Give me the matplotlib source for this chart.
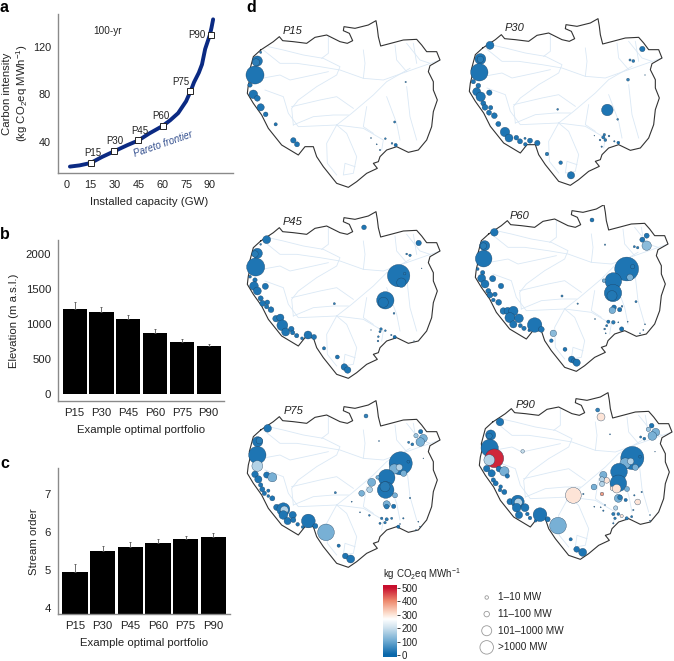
import numpy as np
import matplotlib
matplotlib.use('Agg')
import matplotlib.pyplot as plt
from matplotlib.colors import LinearSegmentedColormap, Normalize

plt.rcParams['font.family'] = ['Liberation Sans', 'DejaVu Sans']
plt.rcParams['mathtext.fontset'] = 'custom'
plt.rcParams['mathtext.rm'] = 'Liberation Sans'
plt.rcParams['mathtext.default'] = 'regular'
plt.rcParams['axes.unicode_minus'] = True

W, H = 674, 661
FS = 8.2
GREY = '#8a8a8a'
TXT = '#222222'

# panel a
frontier_gw = [2, 8, 15, 22, 30, 38, 45, 52, 60, 65, 70, 75, 78, 80, 83, 85, 87, 88, 90, 91, 92]
frontier_ci = [19, 20, 22, 27, 32, 37, 41, 47, 53, 58, 64, 74, 83, 90, 98, 105, 118, 122, 130, 136, 143]
portfolios = ['P15', 'P30', 'P45', 'P60', 'P75', 'P90']
portfolio_gw = [15.5, 30, 44.5, 60.5, 77.5, 90.5]
portfolio_ci = [22, 32, 41, 53, 83, 130]
label_offsets = [(1, 7), (0, 7), (1.5, 6.5), (-1.5, 7), (-6.5, 6), (-10, -0.5)]

# panel b
elevation = [1220, 1165, 1065, 875, 735, 680]
elevation_err = [100, 75, 70, 55, 45, 40]

# panel c
stream_order = [4.96, 5.5, 5.6, 5.72, 5.81, 5.88]
stream_order_err = [0.19, 0.13, 0.13, 0.1, 0.09, 0.1]

# basin outline and rivers, in the P15 crop coordinates (3 units = 1 pixel)
basin = [(62, 150), (85, 135), (100, 125), (118, 110), (128, 122), (160, 125), (200, 130), (225, 112),
         (260, 105), (300, 125), (322, 130), (338, 122), (328, 100), (310, 92), (312, 80), (345, 85),
         (385, 75), (408, 62), (412, 85), (415, 110), (422, 138), (460, 128), (490, 120), (530, 118),
         (545, 135), (560, 155), (590, 155), (600, 180), (570, 197), (565, 215), (580, 245), (580, 270),
         (592, 300), (580, 335), (575, 380), (560, 420), (535, 450), (505, 457), (470, 440), (440, 450),
         (420, 470), (415, 485), (400, 490), (412, 505), (380, 520), (350, 545), (325, 562), (290, 550),
         (270, 525), (250, 500), (230, 470), (220, 440), (195, 440), (175, 465), (150, 450), (125, 435),
         (105, 410), (85, 385), (65, 345), (40, 310), (22, 280), (25, 255), (30, 235), (28, 215),
         (40, 170), (62, 150)]
rivers = [
    [(85, 140), (130, 150), (190, 165), (250, 175), (300, 200), (290, 225), (230, 260), (175, 300), (155, 325), (160, 375)],
    [(70, 150), (120, 190), (170, 190), (240, 200), (300, 210), (370, 235), (430, 240), (500, 215), (600, 180)],
    [(65, 235), (120, 225), (150, 240), (220, 225), (265, 215)],
    [(290, 375), (335, 340), (400, 285), (440, 245), (510, 205)],
    [(290, 375), (260, 430), (262, 490), (290, 525)],
    [(290, 375), (320, 400), (350, 470), (340, 520), (310, 525), (315, 490), (345, 500)],
    [(290, 375), (370, 385), (430, 420), (425, 450)],
    [(380, 320), (370, 380), (400, 400)],
    [(440, 290), (470, 370), (480, 420)],
    [(520, 130), (530, 190)],
    [(370, 150), (375, 190), (370, 235)],
    [(265, 110), (265, 160), (245, 175)],
    [(465, 135), (470, 180), (500, 215)],
    [(500, 130), (540, 180), (570, 190)],
    [(155, 320), (240, 300), (290, 290), (340, 325)],
    [(160, 375), (220, 350), (280, 345), (325, 345)],
    [(75, 270), (130, 290), (145, 340), (175, 380), (290, 375)],
    [(500, 260), (510, 350), (530, 420)],
]

# dams per portfolio: x, y, diameter, carbon intensity (own crop coordinates)
dams_p15 = [(45, 225, 50, 20), (52, 183, 28, 20), (48, 187, 20, 35), (62, 157, 6, 40), (30, 255, 12, 20),
            (40, 283, 24, 20), (52, 295, 16, 20), (62, 322, 20, 20), (77, 343, 13, 20), (107, 373, 9, 20),
            (160, 421, 15, 20), (171, 433, 14, 20), (497, 246, 4, 60), (464, 366, 6, 40), (436, 416, 5, 40),
            (456, 430, 5, 40), (467, 435, 9, 10), (393, 414, 3, 60), (410, 433, 3, 60), (420, 450, 4, 60)]
dams_p30 = [(120, 136, 22, 20), (91, 177, 30, 20), (91, 178, 18, 30), (88, 217, 48, 20), (70, 245, 12, 20),
            (85, 257, 13, 20), (80, 275, 22, 20), (92, 290, 26, 20), (118, 278, 15, 20), (100, 310, 14, 20),
            (105, 322, 16, 20), (122, 323, 12, 20), (117, 338, 14, 20), (133, 347, 16, 20), (145, 372, 14, 20),
            (165, 396, 26, 20), (177, 414, 22, 20), (199, 413, 13, 20), (210, 424, 14, 20), (225, 415, 6, 30),
            (240, 422, 14, 20), (226, 433, 10, 20), (262, 429, 15, 20), (291, 462, 10, 30), (332, 488, 10, 20),
            (363, 526, 20, 20), (472, 330, 32, 20), (323, 328, 5, 40), (503, 358, 5, 40), (534, 239, 8, 40),
            (540, 180, 6, 40), (550, 183, 8, 30), (577, 147, 15, 20), (463, 404, 7, 30), (460, 412, 9, 30),
            (477, 408, 5, 40), (450, 420, 5, 40), (466, 420, 8, 30), (455, 440, 4, 40), (493, 424, 4, 40),
            (505, 428, 8, 10), (433, 407, 2, 40), (585, 225, 2, 40)]
dams_p45 = [(80, 104, 22, 20), (52, 145, 28, 20), (45, 147, 18, 30), (62, 118, 5, 40), (47, 186, 50, 20),
            (30, 215, 8, 20), (45, 225, 12, 20), (42, 243, 24, 20), (52, 258, 22, 20), (76, 244, 17, 20),
            (62, 280, 14, 20), (68, 295, 16, 20), (82, 292, 13, 20), (80, 305, 12, 20), (93, 314, 16, 20),
            (108, 341, 18, 25), (121, 338, 20, 20), (127, 361, 30, 20), (137, 381, 22, 20), (154, 372, 15, 20),
            (158, 383, 12, 20), (170, 392, 12, 20), (186, 400, 8, 20), (204, 390, 22, 20), (222, 396, 14, 20),
            (252, 430, 9, 20), (292, 456, 11, 20), (313, 486, 18, 20), (323, 495, 18, 20), (476, 212, 62, 20),
            (484, 233, 26, 20), (436, 286, 48, 20), (430, 292, 28, 20), (372, 67, 13, 20), (536, 114, 15, 20),
            (500, 147, 5, 30), (510, 151, 7, 30), (283, 296, 6, 40), (462, 325, 5, 40), (494, 206, 7, 30),
            (423, 372, 7, 30), (436, 377, 5, 40), (420, 380, 6, 30), (415, 395, 5, 40), (414, 408, 5, 40),
            (393, 375, 2, 40), (454, 390, 4, 40), (464, 396, 9, 10), (522, 408, 2, 40), (545, 190, 2, 40)]
dams_p60 = [(133, 82, 21, 20), (104, 122, 28, 20), (100, 123, 18, 30), (101, 161, 46, 20), (83, 192, 8, 20),
            (98, 203, 12, 20), (95, 220, 22, 20), (105, 237, 22, 20), (128, 221, 17, 20), (115, 258, 14, 20),
            (120, 270, 16, 20), (135, 268, 12, 20), (130, 285, 10, 20), (146, 292, 16, 20), (153, 243, 15, 20),
            (160, 318, 18, 25), (173, 318, 20, 20), (190, 318, 26, 20), (180, 338, 28, 20), (207, 340, 24, 20),
            (190, 358, 20, 20), (211, 362, 11, 20), (222, 370, 12, 20), (238, 376, 8, 20), (254, 360, 40, 20),
            (274, 373, 16, 20), (310, 385, 18, 130), (304, 407, 10, 20), (345, 433, 11, 20), (365, 463, 18, 20),
            (372, 468, 14, 20), (380, 473, 20, 20), (426, 45, 11, 20), (577, 104, 14, 20), (590, 92, 14, 20),
            (590, 122, 26, 130), (553, 125, 6, 30), (563, 128, 7, 30), (465, 119, 4, 60), (530, 192, 66, 20),
            (548, 185, 12, 30), (540, 217, 18, 110), (490, 228, 46, 20), (462, 227, 10, 110), (489, 264, 48, 20),
            (486, 272, 28, 25), (492, 307, 13, 20), (487, 316, 18, 110), (509, 314, 12, 20), (336, 273, 6, 40),
            (383, 296, 4, 50), (558, 290, 6, 40), (516, 304, 5, 40), (475, 350, 9, 20), (490, 352, 10, 30),
            (470, 362, 6, 30), (464, 372, 5, 40), (515, 372, 12, 15), (505, 352, 3, 40), (533, 350, 3, 50),
            (585, 358, 3, 50), (580, 375, 3, 50), (570, 385, 3, 50), (435, 342, 3, 50), (467, 385, 3, 40)]
dams_p75 = [(83, 115, 21, 20), (53, 155, 28, 20), (58, 152, 18, 30), (52, 195, 48, 20), (52, 228, 30, 170),
            (80, 255, 17, 20), (97, 262, 25, 110), (45, 253, 18, 20), (55, 268, 20, 20), (62, 285, 12, 20),
            (67, 298, 14, 20), (73, 310, 12, 20), (85, 302, 9, 20), (85, 318, 8, 20), (97, 325, 14, 20),
            (110, 352, 17, 20), (130, 358, 36, 20), (133, 360, 22, 170), (130, 375, 24, 20), (143, 393, 20, 20),
            (158, 375, 20, 20), (160, 390, 14, 20), (173, 403, 10, 20), (188, 411, 8, 20), (205, 393, 38, 20),
            (226, 408, 14, 20), (258, 427, 46, 110), (296, 467, 9, 20), (316, 498, 16, 20), (332, 507, 22, 20),
            (378, 78, 11, 40), (542, 125, 12, 20), (528, 137, 12, 150), (550, 145, 22, 110), (541, 156, 24, 110),
            (506, 157, 6, 40), (517, 163, 8, 30), (417, 153, 3, 60), (482, 220, 64, 20), (463, 237, 28, 110),
            (478, 232, 18, 170), (491, 250, 17, 110), (505, 215, 8, 20), (440, 263, 46, 20), (437, 300, 46, 20),
            (435, 290, 28, 30), (395, 277, 22, 110), (413, 262, 10, 110), (389, 299, 16, 170), (365, 310, 16, 110),
            (465, 316, 14, 110), (440, 343, 20, 110), (440, 350, 13, 30), (461, 349, 12, 20), (286, 308, 6, 40),
            (510, 324, 4, 40), (335, 335, 3, 40), (360, 367, 3, 40), (388, 376, 5, 40), (425, 385, 7, 30),
            (440, 388, 9, 30), (455, 385, 6, 30), (420, 400, 6, 30), (435, 398, 7, 30), (475, 410, 9, 10),
            (490, 385, 4, 40), (480, 402, 3, 40), (535, 395, 3, 50), (540, 410, 3, 50), (550, 205, 2, 50),
            (528, 420, 3, 50)]
dams_p90 = [(150, 96, 21, 20), (122, 135, 28, 20), (118, 138, 16, 30), (119, 174, 48, 20), (133, 205, 52, 480),
            (118, 210, 30, 170), (218, 184, 10, 190), (147, 237, 16, 20), (163, 244, 26, 110), (110, 236, 18, 20),
            (125, 250, 20, 20), (130, 270, 12, 20), (137, 280, 14, 20), (152, 290, 10, 20), (150, 300, 10, 20),
            (163, 306, 14, 20), (172, 258, 12, 20), (180, 335, 17, 20), (203, 335, 36, 20), (205, 337, 22, 170),
            (200, 353, 24, 20), (225, 353, 22, 20), (207, 375, 20, 20), (232, 372, 10, 20), (240, 384, 10, 20),
            (257, 392, 8, 20), (270, 374, 38, 20), (293, 388, 14, 20), (324, 407, 46, 110), (362, 448, 9, 20),
            (380, 478, 16, 20), (398, 487, 22, 20), (443, 60, 11, 40), (453, 81, 22, 300), (605, 107, 13, 20),
            (595, 118, 12, 150), (617, 127, 22, 110), (607, 138, 24, 110), (572, 141, 6, 40), (583, 146, 8, 30),
            (480, 133, 3, 60), (547, 204, 64, 20), (526, 220, 30, 110), (542, 214, 18, 170), (556, 232, 17, 110),
            (570, 200, 8, 20), (507, 245, 46, 20), (505, 280, 46, 20), (460, 255, 20, 110), (470, 271, 16, 300),
            (456, 268, 14, 170), (456, 282, 14, 170), (432, 291, 16, 110), (487, 295, 12, 300), (500, 296, 24, 300),
            (531, 297, 14, 110), (370, 316, 44, 300), (400, 312, 4, 50), (456, 312, 10, 380), (505, 325, 22, 110),
            (510, 322, 13, 30), (527, 330, 9, 20), (563, 336, 16, 300), (575, 306, 4, 40), (553, 316, 4, 40),
            (497, 354, 12, 170), (490, 372, 9, 30), (505, 372, 8, 30), (515, 378, 9, 300), (495, 385, 7, 30),
            (530, 385, 9, 30), (545, 380, 6, 30), (490, 400, 4, 40), (550, 360, 4, 60), (600, 375, 3, 50),
            (600, 392, 3, 50), (433, 350, 3, 50), (452, 352, 3, 50), (460, 362, 4, 40), (465, 345, 3, 50),
            (615, 185, 2, 50)]

# name, crop origin in pixels, basin shift in crop units, title position, dams
map_panels = [
    ('P15', (240, 0), (0, 0), (158, 92), dams_p15),
    ('P30', (450, 0), (36, -6), (195, 85), dams_p30),
    ('P45', (240, 205), (0, -42), (158, 50), dams_p45),
    ('P60', (450, 205), (54, -63), (210, 32), dams_p60),
    ('P75', (240, 390), (0, -30), (160, 62), dams_p75),
    ('P90', (450, 390), (66, -54), (228, 45), dams_p90),
]

# legends
cbar_ticks = [0, 100, 200, 300, 400, 500]
size_labels = ['1–10 MW', '11–100 MW', '101–1000 MW', '>1000 MW']
size_diams = [3.5, 5.5, 10, 13.5]

cmap = LinearSegmentedColormap.from_list('ci', [
    (0.0, '#0a68ab'), (0.2, '#6fabd2'), (0.4, '#cfe2ee'), (0.53, '#ffffff'),
    (0.62, '#fcdccb'), (0.8, '#ee8a6e'), (1.0, '#c80f2e')])
norm = Normalize(0, 500)

fig = plt.figure(figsize=(W / 100, H / 100), dpi=100)


def px_axes(x0, y0, x1, y1, **kw):
    # axes from pixel box, y measured from the top
    return fig.add_axes([x0 / W, 1 - y1 / H, (x1 - x0) / W, (y1 - y0) / H], **kw)


def style(ax, tick_fs):
    for s in ['top', 'right']:
        ax.spines[s].set_visible(False)
    for s in ['left', 'bottom']:
        ax.spines[s].set_color(GREY)
        ax.spines[s].set_linewidth(1.0)
    ax.tick_params(labelsize=tick_fs, length=0, colors=TXT, pad=5)


def bars(ax, values, errs, bottom, width):
    x = np.arange(len(values))
    heights = [v - bottom for v in values]
    ax.bar(x, heights, bottom=bottom, width=width, color='black')
    ax.errorbar(x, values, yerr=[np.zeros(len(errs)), errs], fmt='none', ecolor='#555555',
                elinewidth=0.6, capsize=1, capthick=0.6)
    ax.set_xticks(x, portfolios)
    ax.set_xlabel('Example optimal portfolio', fontsize=FS, color=TXT, labelpad=5)


# a
ax = px_axes(58, 14, 233, 173)
style(ax, 7.8)
ax.plot(frontier_gw, frontier_ci, color='#0b2a83', lw=2.8, solid_capstyle='round')
ax.plot(portfolio_gw, portfolio_ci, ls='none', marker='s', ms=4.6, mfc='white', mec='#222222', mew=0.7)
for name, xv, yv, off in zip(portfolios, portfolio_gw, portfolio_ci, label_offsets):
    ax.annotate(name, (xv, yv), xytext=off, textcoords='offset points', fontsize=7,
                color=TXT, ha='center', va='center')
ax.text(16.5, 133, '100-yr', fontsize=7.2, color=TXT, ha='left', va='center')
ax.text(60.5, 38, 'Pareto frontier', fontsize=7, style='italic', color='#34508f',
        rotation=19, ha='center', va='center', rotation_mode='anchor')
ax.set_xlim(-5.5, 104.5)
ax.set_ylim(13.6, 147.5)
ax.set_xticks([0, 15, 30, 45, 60, 75, 90])
ax.set_yticks([40, 80, 120])
ax.set_xlabel('Installed capacity (GW)', fontsize=FS, color=TXT, labelpad=5, x=0.52)
ax.set_ylabel('Carbon intensity\n(kg CO$_2$eq MWh$^{-1}$)', fontsize=FS, color=TXT, labelpad=2)

# b
ax = px_axes(58.3, 240, 224, 401)
style(ax, FS)
bars(ax, elevation, elevation_err, 0, 0.9)
ax.set_xlim(-0.61, 5.57)
ax.set_ylim(-105, 2205)
ax.set_yticks([0, 500, 1000, 1500, 2000])
ax.set_ylabel('Elevation (m a.s.l.)', fontsize=FS, color=TXT, labelpad=5)

# c
ax = px_axes(58, 468.3, 230, 614.3)
style(ax, FS)
bars(ax, stream_order, stream_order_err, 3.84, 0.915)
ax.set_xlim(-0.61, 5.6)
ax.set_ylim(3.84, 7.67)
ax.set_yticks([4, 5, 6, 7])
ax.set_ylabel('Stream order', fontsize=FS, color=TXT, labelpad=4)

# d maps
bx, by = zip(*basin)
for name, (ox, oy), (sx, sy), (tx, ty), dams in map_panels:
    ax = px_axes(ox, oy, ox + 224, oy + 200)
    ax.patch.set_alpha(0)
    ax.axis('off')
    ax.set_xlim(0, 672)
    ax.set_ylim(600, 0)
    for r in rivers:
        rx, ry = zip(*r)
        ax.plot(np.array(rx) + sx, np.array(ry) + sy, color='#dae8f5', lw=0.6, zorder=1)
    ax.plot(np.array(bx) + sx, np.array(by) + sy, color='#333333', lw=0.8, zorder=2)
    x, y, d, c = map(np.array, zip(*dams))
    # diameters are in crop units, 3 units to a pixel (a bit over, dots read small otherwise)
    ax.scatter(x, y, s=(d * 0.26) ** 2, c=c, cmap=cmap, norm=norm, edgecolors='#1c3f5e',
               linewidths=0.25, zorder=3, clip_on=False)
    ax.text(tx, ty, name, fontsize=8, style='italic', color=TXT, ha='center', va='center', zorder=4)

# colour scale
ax = px_axes(383.3, 584.7, 396.7, 657.3)
grad = np.linspace(525, -17, 200).reshape(-1, 1)
ax.imshow(np.clip(grad, 0, 500), cmap=cmap, norm=norm, aspect='auto', extent=(0, 1, -17, 525))
for s in ax.spines.values():
    s.set_visible(False)
ax.set_xticks([])
ax.yaxis.tick_right()
ax.set_yticks(cbar_ticks)
ax.tick_params(axis='y', labelsize=7, length=2, width=0.6, colors=TXT, pad=1.5)
fig.text(382.7 / W, 1 - 574 / H, 'kg CO$_2$eq MWh$^{-1}$', fontsize=7, color=TXT, ha='left', va='center')

# size key
ax = px_axes(470, 590, 640, 654)
ax.axis('off')
ax.set_xlim(0, 170)
ax.set_ylim(3.4, -0.45)
ys = np.arange(len(size_labels))
ax.scatter(np.full(len(ys), 16.7), ys, s=(np.array(size_diams) * 0.72) ** 2, facecolors='white',
           edgecolors='#9a9a9a', linewidths=0.6, clip_on=False)
for y, lab in zip(ys, size_labels):
    ax.text(28.3, y, lab, fontsize=7.2, color=TXT, ha='left', va='center')

# panel letters
for letter, lx, ly in [('a', 0, 8), ('b', 0, 235), ('c', 0, 463), ('d', 246, 7)]:
    fig.text(lx / W, 1 - ly / H, letter, fontsize=11.5, fontweight='bold', color='black', ha='left', va='center')

fig.savefig('out.png', dpi=100)
